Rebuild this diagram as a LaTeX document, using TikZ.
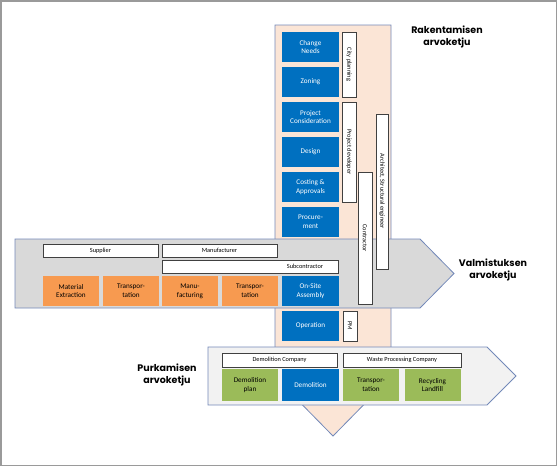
\documentclass[tikz,border=0pt]{standalone}
\usepackage{fontspec}
\setmainfont{Carlito}
\newfontfamily\headfont{Poppins}
\definecolor{peach}{HTML}{FBE5D6}
\definecolor{bandgray}{HTML}{D9D9D9}
\definecolor{lightband}{HTML}{F2F2F2}
\definecolor{edgeblue}{HTML}{7389B9}
\definecolor{stageblue}{HTML}{0070C0}
\definecolor{stageorange}{HTML}{F79A50}
\definecolor{stagegreen}{HTML}{9BBB59}
\definecolor{framegray}{HTML}{9A9A9A}

\begin{document}
\begin{tikzpicture}[x=1pt,y=-1pt,
  stage/.style={fill=stageblue, text=white, minimum width=57pt, minimum height=30pt,
    inner sep=0pt, align=center, font=\fontsize{7.2}{8.7}\selectfont},
  orangestage/.style={stage, fill=stageorange, text=black, minimum width=56pt},
  greenstage/.style={stage, fill=stagegreen, text=black, minimum width=56pt, minimum height=32pt},
  role/.style={draw=black!75, fill=white, line width=0.8pt, inner sep=0pt,
    minimum height=13pt, font=\fontsize{6.3}{7}\selectfont},
  vrole/.style={role, rotate=-90},
  chain/.style={draw=edgeblue, line width=0.8pt},
  title/.style={align=center, font=\headfont\bfseries\fontsize{9.5}{11.5}\selectfont}]
\useasboundingbox (0,0) rectangle (557,466);
\draw[framegray, line width=1.5pt] (0.75,0.75) rectangle (556.25,465.25);

% value chains
\draw[chain, fill=peach] (275,25) -- (391,25) -- (391,377) -- (333,436) -- (275,377) -- cycle;
\draw[chain, fill=bandgray] (15,239) -- (420,239) -- (454,273.5) -- (420,308) -- (15,308) -- cycle;
\draw[chain, fill=lightband] (208,347) -- (487,347) -- (516,376) -- (487,405) -- (208,405) -- cycle;

% construction stages
\node[stage] (needs) at (310.5,47) {Change\\Needs};
\node[stage] (zoning) at (310.5,82) {Zoning};
\node[stage] (consider) at (310.5,117) {Project\\Consideration};
\node[stage] (design) at (310.5,152) {Design};
\node[stage] (costing) at (310.5,187) {Costing \&\\Approvals};
\node[stage] (procure) at (310.5,222) {Procure-\\ment};
\node[stage] (assembly) at (310.5,291) {On-Site\\Assembly};
\node[stage] (operation) at (310.5,326) {Operation};

% manufacturing stages
\node[orangestage] (extract) at (71,291) {Material\\Extraction};
\node[orangestage] (transp1) at (131,291) {Transpor-\\tation};
\node[orangestage] (manuf) at (190,291) {Manu-\\facturing};
\node[orangestage] (transp2) at (250,291) {Transpor-\\tation};

% demolition stages
\node[greenstage] (demplan) at (250,385) {Demolition\\plan};
\node[stage, minimum height=32pt] (demol) at (310.5,385) {Demolition};
\node[greenstage] (transp3) at (371,385) {Transpor-\\tation};
\node[greenstage] (recycle) at (432.5,385) {Recycling\\Landfill};

% actors
\node[role, minimum width=115pt] (supplier) at (100.5,250.5) {Supplier};
\node[role, minimum width=115pt] (manufacturer) at (219.5,250.5) {Manufacturer};
\node[role, minimum width=176pt] (subcontr) at (250,266.5) {\hspace*{110pt}Subcontractor};
\node[vrole, minimum width=65pt, minimum height=14pt] (cityplan) at (349,64.5) {City planning};
\node[vrole, minimum width=100pt, minimum height=14pt] (developer) at (349,152) {Project developer};
\node[vrole, minimum width=132pt, minimum height=14pt] (contractor) at (365,238) {Contractor};
\node[vrole, minimum width=155pt, minimum height=12pt] (architect) at (382,191.5) {Architect, Structural engineer};
\node[vrole, minimum width=30pt, minimum height=14pt] (pm) at (350,326) {PM};
\node[role, minimum width=115pt, minimum height=14pt] (demcomp) at (279.5,360) {Demolition Company};
\node[role, minimum width=118pt, minimum height=14pt] (wastecomp) at (402,360) {Waste Processing Company};

% chain titles
\node[title] (rakent) at (447,37) {Rakentamisen\\arvoketju};
\node[title] (valmist) at (493,270) {Valmistuksen\\arvoketju};
\node[title] (purkam) at (167,375) {Purkamisen\\arvoketju};
\end{tikzpicture}
\end{document}
